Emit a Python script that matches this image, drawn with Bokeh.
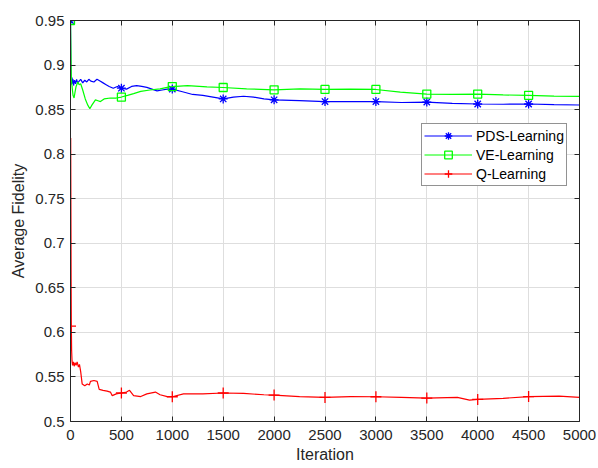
from bokeh.plotting import figure
from bokeh.models import (LinearAxis, FixedTicker, Range1d, Legend, LegendItem,
                          CustomJSTickFormatter)
from bokeh.embed import file_html
from bokeh.resources import INLINE

# ---------------- data ----------------
PDS_X = [0, 3, 6, 10, 15, 20, 25, 30, 40, 50, 60, 70, 85, 100, 120, 140, 160, 180, 200,
         230, 260, 290, 320, 350, 380, 420, 460, 500, 550, 600, 650, 700, 750, 800, 850,
         900, 950, 1000, 1100, 1200, 1300, 1400, 1500, 1600, 1700, 1800, 1900, 2000,
         2250, 2500, 2750, 3000, 3250, 3500, 3750, 4000, 4250, 4500, 4750, 5000]
PDS_Y = [0.95, 0.905, 0.878, 0.880, 0.886, 0.879, 0.884, 0.877, 0.883, 0.879, 0.884,
         0.880, 0.882, 0.884, 0.880, 0.883, 0.881, 0.884, 0.882, 0.881, 0.884, 0.882,
         0.880, 0.878, 0.876, 0.874, 0.876, 0.874, 0.873, 0.876, 0.877, 0.876, 0.875,
         0.873, 0.871, 0.872, 0.873, 0.873, 0.870, 0.867, 0.866, 0.864, 0.862, 0.864,
         0.865, 0.864, 0.862, 0.861, 0.860, 0.859, 0.859, 0.859, 0.858, 0.8585, 0.857,
         0.8563, 0.856, 0.8563, 0.8555, 0.8552]

VE_X = [0, 8, 15, 25, 35, 45, 55, 72, 85, 100, 120, 145, 170, 190, 210, 245, 270, 294,
        330, 392, 450, 500, 560, 620, 690, 780, 880, 950, 1000, 1150, 1340, 1500, 1730,
        2000, 2255, 2500, 2750, 3000, 3240, 3500, 3750, 4000, 4250, 4500, 4750, 5000]
VE_Y = [0.95, 0.885, 0.876, 0.866, 0.863, 0.870, 0.876, 0.881, 0.878, 0.879, 0.872,
        0.862, 0.855, 0.851, 0.855, 0.861, 0.860, 0.859, 0.862, 0.863, 0.863, 0.8641,
        0.866, 0.868, 0.8704, 0.872, 0.8733, 0.875, 0.8759, 0.877, 0.8755, 0.8748,
        0.8733, 0.8722, 0.8733, 0.8726, 0.873, 0.8726, 0.8696, 0.8674, 0.867, 0.8674,
        0.8665, 0.866, 0.8652, 0.8648]

Q_X = [0, 2, 4, 6, 8, 11, 15, 20, 28, 36, 45, 55, 65, 78, 88, 100, 115, 140, 165, 185,
       196, 230, 262, 282, 320, 360, 392, 410, 450, 500, 550, 580, 620, 690, 750, 834,
       880, 950, 1000, 1110, 1300, 1500, 1700, 1900, 2000, 2250, 2500, 2750, 3000, 3250,
       3500, 3800, 3920, 4000, 4250, 4500, 4800, 5000]
Q_Y = [0.607, 0.818, 0.74, 0.66, 0.61, 0.58, 0.568, 0.563, 0.567, 0.562, 0.566, 0.563,
       0.567, 0.561, 0.564, 0.556, 0.542, 0.540, 0.542, 0.541, 0.545, 0.546, 0.545,
       0.536, 0.535, 0.534, 0.533, 0.529, 0.531, 0.532, 0.533, 0.535, 0.529, 0.528,
       0.531, 0.533, 0.530, 0.528, 0.5278, 0.531, 0.531, 0.532, 0.5315, 0.530, 0.5296,
       0.528, 0.527, 0.528, 0.5278, 0.527, 0.5263, 0.527, 0.524, 0.5248, 0.526, 0.528,
       0.5285, 0.527]

MARKER_ITERS = [0, 500, 1000, 1500, 2000, 2500, 3000, 3500, 4000, 4500]

X_TICKS = [0, 500, 1000, 1500, 2000, 2500, 3000, 3500, 4000, 4500, 5000]
Y_TICKS = [0.5, 0.55, 0.6, 0.65, 0.7, 0.75, 0.8, 0.85, 0.9, 0.95]
Y_TICK_LABELS = ["0.5", "0.55", "0.6", "0.65", "0.7", "0.75", "0.8", "0.85", "0.9", "0.95"]

SERIES_NAMES = ["PDS-Learning", "VE-Learning", "Q-Learning"]
X_LABEL = "Iteration"
Y_LABEL = "Average Fidelity"

# ---------------- figure ----------------
FONT = "Liberation Sans"
AX = "#262626"

p = figure(width=598, height=468, output_backend="svg", toolbar_location=None,
           x_range=Range1d(0, 5000), y_range=Range1d(0.5, 0.95),
           min_border_left=70, min_border_right=19, min_border_top=20,
           min_border_bottom=47)
p.outline_line_color = None
p.background_fill_color = "white"
p.border_fill_color = "white"

for ax in [p.xaxis[0], p.yaxis[0]]:
    ax.axis_line_color = AX
    ax.major_tick_line_color = AX
    ax.major_tick_in = 5
    ax.major_tick_out = 0
    ax.minor_tick_line_color = None
    ax.major_label_text_font = FONT
    ax.major_label_text_font_size = "15px"
    ax.major_label_text_color = AX
    ax.axis_label_text_font = FONT
    ax.axis_label_text_font_size = "16px"
    ax.axis_label_text_font_style = "normal"
    ax.axis_label_text_color = AX

p.xaxis.ticker = FixedTicker(ticks=X_TICKS)
p.yaxis.ticker = FixedTicker(ticks=Y_TICKS)
p.yaxis.major_label_overrides = {t: l for t, l in zip(Y_TICKS, Y_TICK_LABELS)}
p.xaxis.axis_label = X_LABEL
p.yaxis.axis_label = Y_LABEL
p.xaxis.major_label_standoff = 8
p.xaxis.axis_label_standoff = 3
p.yaxis.major_label_standoff = 6
p.yaxis.axis_label_standoff = 5

for loc, ticks in [("above", X_TICKS), ("right", Y_TICKS)]:
    a = LinearAxis(ticker=FixedTicker(ticks=ticks),
                   formatter=CustomJSTickFormatter(code="return ''"))
    a.axis_line_color = AX
    a.major_tick_line_color = AX
    a.major_tick_in = 5
    a.major_tick_out = 0
    a.minor_tick_line_color = None
    a.major_label_standoff = 0
    p.add_layout(a, loc)

p.xgrid.ticker = FixedTicker(ticks=X_TICKS)
p.ygrid.ticker = FixedTicker(ticks=Y_TICKS)
for g in [p.xgrid[0], p.ygrid[0]]:
    g.grid_line_color = "#dedede"
    g.grid_line_width = 1

def markers(xs, ys):
    mx = [x for x in xs if x in MARKER_ITERS]
    my = [y for x, y in zip(xs, ys) if x in MARKER_ITERS]
    return mx, my

items = []
specs = [
    (PDS_X, PDS_Y, "#0000ff", "asterisk", 9),
    (VE_X, VE_Y, "#00ff00", "square", 8),
    (Q_X, Q_Y, "#ff0000", "cross", 11),
]
for name, (xs, ys, col, mk, sz) in zip(SERIES_NAMES, specs):
    ln = p.line(xs, ys, line_color=col, line_width=1.2)
    mx, my = markers(xs, ys)
    sc = p.scatter(mx, my, marker=mk, size=sz, line_color=col, fill_color=None,
                   line_width=1.3)
    items.append(LegendItem(label=name, renderers=[ln, sc]))

leg = Legend(items=items, location=(351, 235), margin=0, padding=2, spacing=0,
             glyph_width=48, glyph_height=19, label_height=19, label_standoff=4,
             label_text_font=FONT, label_text_font_size="14px",
             label_text_color="#000000",
             border_line_color=AX, border_line_width=1,
             background_fill_color="white", background_fill_alpha=1)
p.add_layout(leg, "center")

open("out.html", "w").write(file_html(p, INLINE))
